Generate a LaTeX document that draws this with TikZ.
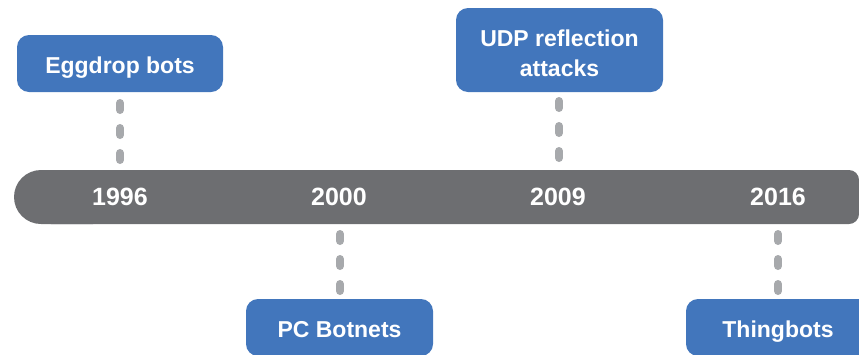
\documentclass[tikz,border=0pt]{standalone}
\usepackage{fontspec}
\setmainfont{Liberation Sans}
\definecolor{boxblue}{RGB}{66,118,188}
\definecolor{bargray}{RGB}{109,110,113}
\definecolor{dashgray}{RGB}{167,169,172}
\tikzset{
  event/.style={fill=boxblue, rounded corners=12pt, text=white, font=\fontsize{23}{29.3}\selectfont\bfseries, align=center, inner sep=0pt, text height=19pt, text depth=0pt},
  year/.style={text=white, font=\fontsize{25}{30}\selectfont\bfseries, inner sep=0pt},
  dashline/.style={draw=dashgray, line width=8pt, line cap=round, dash pattern=on 7pt off 18pt}
}
\begin{document}
\begin{tikzpicture}[x=1pt,y=-1pt]
\useasboundingbox (0,0) rectangle (859,354);
\begin{scope}
\clip (0,0) rectangle (859,354);
% timeline bar
\fill[bargray, rounded corners=27pt] (14,170) rectangle (120,224);
\fill[bargray, rounded corners=10pt] (41,170) rectangle (859,224);
\node[year] (y1996) at (120,197) {1996};
\node[year] (y2000) at (339,197) {2000};
\node[year] (y2009) at (558,197) {2009};
\node[year] (y2016) at (778,197) {2016};
% event boxes
\node[event, minimum width=206pt, minimum height=57pt] (egg) at (120,63.5) {Eggdrop bots};
\node[event, minimum width=207pt, minimum height=84pt, text height=52pt] (udp) at (559.5,50) {UDP reflection\\attacks};
\node[event, minimum width=187pt, minimum height=57pt] (pc) at (339.5,327.5) {PC Botnets};
\node[event, minimum width=184pt, minimum height=57pt] (thing) at (778,327.5) {Thingbots};
% connector ends
\coordinate (e1) at (120,103); \coordinate (e2) at (120,160);
\coordinate (u1) at (559,101); \coordinate (u2) at (559,160);
\coordinate (p1) at (340,234); \coordinate (p2) at (340,292);
\coordinate (t1) at (778,234); \coordinate (t2) at (778,292);
\draw[dashline] (e1) -- (e2);
\draw[dashline] (u1) -- (u2);
\draw[dashline] (p1) -- (p2);
\draw[dashline] (t1) -- (t2);
\end{scope}
\end{tikzpicture}
\end{document}
